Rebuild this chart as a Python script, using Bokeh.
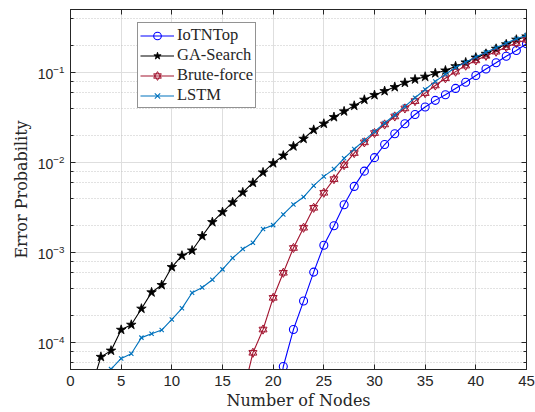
from bokeh.plotting import figure
from bokeh.models import Range1d, LinearAxis, LogAxis, Legend, LegendItem, FixedTicker, LogTicker
from bokeh.embed import file_html
from bokeh.resources import INLINE

# ---------------- data ----------------
x_iot = list(range(20, 46))
y_iot = [1e-5, 5.4e-5, 1.39e-4, 2.88e-4, 6.04e-4, 1.2e-3, 1.98e-3, 3.39e-3, 5.41e-3,
         8.0e-3, 1.13e-2, 1.58e-2, 2.08e-2, 2.69e-2, 3.41e-2, 0.0412, 0.0489, 0.0565,
         0.0664, 0.0776, 0.0923, 0.109, 0.128, 0.151, 0.175, 0.208]

x_ga = list(range(2, 46))
y_ga = [3.0e-5, 6.9e-5, 8.1e-5, 1.38e-4, 1.57e-4, 2.37e-4, 3.6e-4, 4.34e-4, 6.87e-4,
        9.2e-4, 1.05e-3, 1.52e-3, 2.17e-3, 2.8e-3, 3.6e-3, 4.64e-3, 5.94e-3, 7.74e-3,
        9.8e-3, 1.19e-2, 1.51e-2, 1.83e-2, 2.3e-2, 2.69e-2, 3.19e-2, 3.69e-2, 4.26e-2,
        4.97e-2, 5.6e-2, 6.2e-2, 6.87e-2, 7.67e-2, 8.36e-2, 8.95e-2, 9.8e-2, 0.105,
        0.117, 0.129, 0.146, 0.161, 0.183, 0.205, 0.231, 0.251]

x_bf = list(range(17, 46))
y_bf = [2.6e-5, 7.67e-5, 1.39e-4, 3.13e-4, 5.94e-4, 1.12e-3, 1.88e-3, 3.13e-3, 4.6e-3,
        6.52e-3, 9.33e-3, 1.27e-2, 1.67e-2, 2.12e-2, 2.64e-2, 3.24e-2, 3.98e-2, 4.8e-2,
        0.0589, 0.0716, 0.0861, 0.102, 0.119, 0.136, 0.153, 0.170, 0.191, 0.212, 0.231]

x_lstm = list(range(3, 46))
y_lstm = [3.0e-5, 5.05e-5, 6.64e-5, 7.48e-5, 1.13e-4, 1.25e-4, 1.37e-4, 1.8e-4, 2.39e-4,
          3.56e-4, 4.08e-4, 4.97e-4, 6.48e-4, 8.65e-4, 1.09e-3, 1.28e-3, 1.82e-3, 2.01e-3,
          2.64e-3, 3.41e-3, 4.12e-3, 5.51e-3, 6.99e-3, 8.43e-3, 1.11e-2, 1.41e-2, 1.76e-2,
          2.2e-2, 2.74e-2, 3.36e-2, 4.19e-2, 5.23e-2, 0.0646, 0.0794, 0.0955, 0.1135,
          0.130, 0.148, 0.167, 0.188, 0.211, 0.237, 0.258]

x_ticks = [0, 5, 10, 15, 20, 25, 30, 35, 40, 45]
series_names = ["IoTNTop", "GA-Search", "Brute-force", "LSTM"]

# ---------------- figure ----------------
AX = "#262626"
p = figure(frame_width=456, frame_height=360, y_axis_type="log",
           x_range=Range1d(0, 45), y_range=Range1d(5e-5, 0.5),
           output_backend="svg", toolbar_location=None,
           min_border_left=70, min_border_right=9, min_border_top=9, min_border_bottom=43)
p.outline_line_color = AX
p.outline_line_width = 1
p.background_fill_color = "white"

p.xaxis.ticker = FixedTicker(ticks=x_ticks)
p.yaxis.ticker = LogTicker()

for ax in (p.xaxis[0], p.yaxis[0]):
    ax.axis_line_color = AX
    ax.major_tick_line_color = AX
    ax.minor_tick_line_color = AX
    ax.major_tick_in = 5
    ax.major_tick_out = 0
    ax.minor_tick_in = 3
    ax.minor_tick_out = 0
    ax.major_label_text_color = AX
    ax.major_label_text_font = "Liberation Sans"
    ax.axis_label_text_font = "DejaVu Serif"
    ax.axis_label_text_font_style = "normal"
    ax.axis_label_text_font_size = "16px"
    ax.axis_label_text_color = AX

p.xaxis.major_label_text_font_size = "15px"
p.yaxis.major_label_text_font_size = "14px"
p.xaxis.major_label_standoff = 6
p.yaxis.major_label_standoff = 6
p.xaxis.axis_label = "Number of Nodes"
p.yaxis.axis_label = "Error Probability"
p.xaxis.axis_label_standoff = 2
p.yaxis.axis_label_standoff = 4

top = LinearAxis(ticker=FixedTicker(ticks=x_ticks), major_label_text_color=None,
                 axis_line_color=AX, major_tick_line_color=AX, major_tick_in=5,
                 major_tick_out=0, minor_tick_line_color=None, major_label_standoff=0)
right = LogAxis(ticker=LogTicker(), major_label_text_color=None,
                axis_line_color=AX, major_tick_line_color=AX, major_tick_in=5,
                major_tick_out=0, minor_tick_line_color=AX, minor_tick_in=3, minor_tick_out=0,
                major_label_standoff=0)
top.major_label_text_font_size = "1px"
right.major_label_text_font_size = "1px"
p.add_layout(top, "above")
p.add_layout(right, "right")

p.xgrid.grid_line_color = "#dedede"
p.ygrid.grid_line_color = "#dedede"
p.ygrid.minor_grid_line_color = "#c4c4c4"
p.ygrid.minor_grid_line_dash = "1 2"
p.xgrid.minor_grid_line_color = None

# ---------------- series ----------------
C_IOT = "#0000FF"
C_GA = "#000000"
C_BF = "#A2142F"
C_LSTM = "#0072BD"

l1 = p.line(x_iot, y_iot, line_color=C_IOT, line_width=1.1)
m1 = p.scatter(x_iot, y_iot, marker="circle", size=8, line_color=C_IOT,
               fill_color=None, line_width=1.1)

l2 = p.line(x_ga, y_ga, line_color=C_GA, line_width=1.1)
m2 = p.scatter(x_ga, y_ga, marker="star", size=10, line_color=C_GA,
               fill_color=C_GA, line_width=0.8)

l3 = p.line(x_bf, y_bf, line_color=C_BF, line_width=1.1)
m3a = p.scatter(x_bf, y_bf, marker="triangle", size=8, line_color=C_BF,
                fill_color=None, line_width=1)
m3b = p.scatter(x_bf, y_bf, marker="inverted_triangle", size=8, line_color=C_BF,
                fill_color=None, line_width=1)

l4 = p.line(x_lstm, y_lstm, line_color=C_LSTM, line_width=1.1)
m4 = p.scatter(x_lstm, y_lstm, marker="x", size=6, line_color=C_LSTM, line_width=1.1)

legend = Legend(items=[
    LegendItem(label=series_names[0], renderers=[l1, m1]),
    LegendItem(label=series_names[1], renderers=[l2, m2]),
    LegendItem(label=series_names[2], renderers=[l3, m3a, m3b]),
    LegendItem(label=series_names[3], renderers=[l4, m4]),
], location=(67, 261))
legend.label_text_font = "Liberation Serif"
legend.label_text_font_size = "16.5px"
legend.label_text_color = AX
legend.border_line_color = AX
legend.border_line_width = 1
legend.background_fill_alpha = 1
legend.padding = 2
legend.margin = 0
legend.spacing = 0
legend.glyph_width = 34
legend.glyph_height = 19
legend.label_height = 19
legend.label_standoff = 3
p.add_layout(legend, "center")

open("out.html", "w").write(file_html(p, INLINE))
